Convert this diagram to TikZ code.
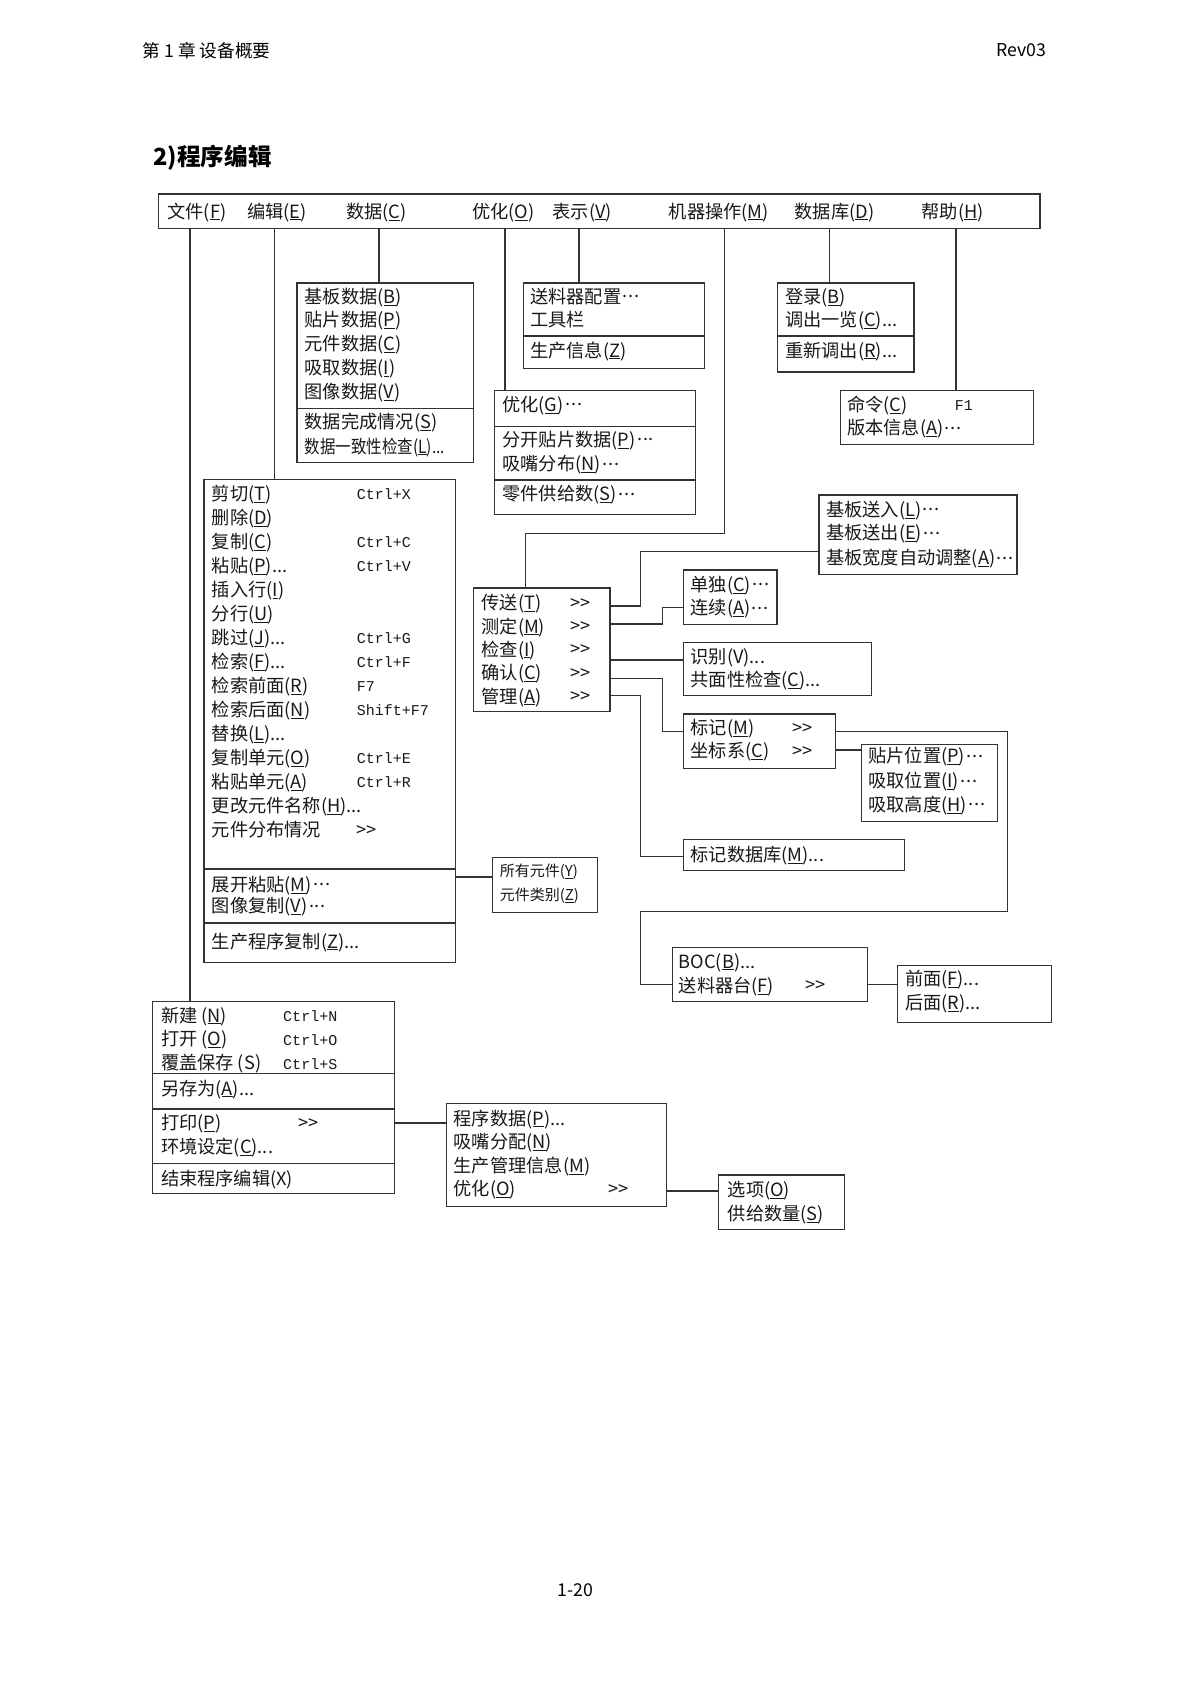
\documentclass[tikz,border=0pt]{standalone}
\usepackage{fontspec}
\setmainfont{Noto Sans CJK SC}
\setmonofont{Liberation Mono}
\newcommand\mn[1]{\underline{#1}}
\newcommand\md{\kern0.08em\raisebox{0.3em}{.\kern0.05em.\kern0.05em.}}
\newcommand\dg{>{}>}
\tikzset{
  ln/.style={line width=1.1pt, draw=black!80},
  mbox/.style={ln, rectangle, inner sep=0pt, outer sep=0pt, anchor=north west},
  rt/.style={inner sep=0pt, anchor=base west, font=\fontsize{17}{17}\selectfont, text=black!90},
  st/.style={inner sep=0pt, anchor=base west, font=\fontsize{14}{14}\selectfont, text=black!90},
  kt/.style={inner sep=0pt, anchor=base west, font=\ttfamily\fontsize{14}{14}\selectfont, text=black!90},
  gt/.style={inner sep=0pt, anchor=base west, font=\fontsize{17}{17}\selectfont, text=black!90},
  hd/.style={inner sep=0pt, font=\fontsize{16.5}{16.5}\selectfont},
  ttl/.style={inner sep=0pt, font=\bfseries\fontsize{22}{22}\selectfont},
}
\newcommand\mybox[5]{\node[mbox, minimum width={(#4)-(#2)}, minimum height={(#5)-(#3)}] (#1) at (#2,#3) {};}
\newcommand\rw[4]{\node[rt] (#1) at (#2,#3+6) {#4};}
\newcommand\sw[4]{\node[st] (#1) at (#2,#3+5) {#4};}
\newcommand\kw[4]{\node[kt] (#1) at (#2,#3+5.5) {#4};}
\newcommand\gw[3]{\node[gt] (#1) at (#2,#3+5.5) {\dg};}
\newcommand\divline[3]{\draw[ln] (#1,#3) -- (#2,#3);}
\begin{document}
\begin{tikzpicture}[x=1pt,y=-1pt]
\useasboundingbox[fill=white] (0,0) rectangle (1108,1568);
% header
\node[hd, anchor=west] (hdL) at (133,47) {第 1 章 设备概要};
\node[hd, anchor=east] (hdR) at (976,47) {Rev03};
\node[ttl, anchor=west] (ttl) at (143,147) {2)程序编辑};
\node[hd] (pg) at (537,1483) {1-20};

% menubar
\mybox{mb}{148}{181}{970}{213}
\rw{mF}{156}{197.5}{文件(\mn{F})}
\rw{mE}{230.5}{197.5}{编辑(\mn{E})}
\rw{mC}{322.7}{197.5}{数据(\mn{C})}
\rw{mO}{440.3}{197.5}{优化(\mn{O})}
\rw{mV}{515.3}{197.5}{表示(\mn{V})}
\rw{mM}{623.7}{197.5}{机器操作(\mn{M})}
\rw{mD}{741}{197.5}{数据库(\mn{D})}
\rw{mH}{859.4}{197.5}{帮助(\mn{H})}

\coordinate (xF) at (177.2,0);
\coordinate (xE) at (256,0);
\coordinate (xC) at (353.5,0);
\coordinate (xO) at (471,0);
\coordinate (xV) at (540,0);
\coordinate (xM) at (676,0);
\coordinate (xD) at (774,0);
\coordinate (xH) at (891.7,0);
\coordinate (turnM) at (490,497.4);

% data box
\mybox{dat}{277}{264}{442}{431.5}
\divline{277}{442}{381}
\rw{d1}{284}{277}{基板数据(\mn{B})}
\rw{d2}{284}{299}{贴片数据(\mn{P})}
\rw{d3}{284}{321}{元件数据(\mn{C})}
\rw{d4}{284}{343.5}{吸取数据(\mn{I})}
\rw{d5}{284}{366}{图像数据(\mn{V})}
\rw{d6}{284}{394}{数据完成情况(\mn{S})}
\rw{d7}{284}{416.6}{\scalebox{0.85}[1]{数据一致性检查(\mn{L})...}}

% view box
\mybox{shw}{488}{264}{657}{344}
\divline{488}{657}{313.4}
\rw{v1}{494.3}{277}{送料器配置\md}
\rw{v2}{494.3}{298.5}{工具栏}
\rw{v3}{494.3}{327}{生产信息(\mn{Z})}

% database box
\mybox{db}{725}{264}{852.5}{347}
\divline{725}{852.5}{313.4}
\rw{b1}{732.3}{277}{登录(\mn{B})}
\rw{b2}{732.3}{298.5}{调出一览(\mn{C})...}
\rw{b3}{732.3}{327}{重新调出(\mn{R})...}

% help box
\mybox{hlp}{784}{364}{964}{414.4}
\rw{h1}{790}{377.7}{命令(\mn{C})}
\kw{h1k}{890.4}{377.7}{F1}
\rw{h2}{790}{399.5}{版本信息(\mn{A})\md}

% optimize box
\mybox{opt}{461}{364}{648.5}{480}
\divline{461}{648.5}{398}
\divline{461}{648.5}{447.7}
\rw{o1}{468.4}{377.7}{优化(\mn{G})\md}
\rw{o2}{468.4}{410.4}{分开贴片数据(\mn{P})\md}
\rw{o3}{468.4}{433}{吸嘴分布(\mn{N})\md}
\rw{o4}{468.4}{461}{零件供给数(\mn{S})\md}

% edit box
\mybox{ed}{190.3}{447}{425}{898}
\divline{190.3}{425}{810.5}
\divline{190.3}{425}{861}
\rw{e1}{197.4}{460.7}{剪切(\mn{T})}   \kw{e1k}{332.6}{460.7}{Ctrl+X}
\rw{e2}{197.4}{483.1}{删除(\mn{D})}
\rw{e3}{197.4}{505.5}{复制(\mn{C})}   \kw{e3k}{332.6}{505.5}{Ctrl+C}
\rw{e4}{197.4}{527.9}{粘贴(\mn{P})...} \kw{e4k}{332.6}{527.9}{Ctrl+V}
\rw{e5}{197.4}{550.3}{插入行(\mn{I})}
\rw{e6}{197.4}{572.7}{分行(\mn{U})}
\rw{e7}{197.4}{595.1}{跳过(\mn{J})...} \kw{e7k}{332.6}{595.1}{Ctrl+G}
\rw{e8}{197.4}{617.5}{检索(\mn{F})...} \kw{e8k}{332.6}{617.5}{Ctrl+F}
\rw{e9}{197.4}{639.9}{检索前面(\mn{R})} \kw{e9k}{332.6}{639.9}{F7}
\rw{e10}{197.4}{662.3}{检索后面(\mn{N})} \kw{e10k}{332.6}{662.3}{Shift+F7}
\rw{e11}{197.4}{684.7}{替换(\mn{L})...}
\rw{e12}{197.4}{707.1}{复制单元(\mn{O})} \kw{e12k}{332.6}{707.1}{Ctrl+E}
\rw{e13}{197.4}{729.5}{粘贴单元(\mn{A})} \kw{e13k}{332.6}{729.5}{Ctrl+R}
\rw{e14}{197.4}{751.9}{更改元件名称(\mn{H})...}
\rw{e15}{197.4}{774.3}{元件分布情况} \gw{e15k}{332.6}{774.3}
\rw{e16}{197.4}{825.4}{展开粘贴(\mn{M})\md}
\rw{e17}{197.4}{845.6}{图像复制(\mn{V})\md}
\rw{e18}{197.4}{878.3}{生产程序复制(\mn{Z})...}

% all components box
\mybox{allc}{459.7}{800}{557}{851}
\sw{a1}{466}{813}{所有元件(\mn{Y})}
\sw{a2}{466}{835}{元件类别(\mn{Z})}

% machine operation box
\mybox{trans}{441.7}{548.5}{569}{664}
\rw{t1}{449}{562.7}{传送(\mn{T})} \gw{t1k}{532}{562.7}
\rw{t2}{449}{584.5}{测定(\mn{M})} \gw{t2k}{532}{584.5}
\rw{t3}{449}{606}{检查(\mn{I})}   \gw{t3k}{532}{606}
\rw{t4}{449}{628}{确认(\mn{C})}   \gw{t4k}{532}{628}
\rw{t5}{449}{649.8}{管理(\mn{A})} \gw{t5k}{532}{649.8}

\mybox{kiban}{764}{461.7}{948.6}{536}
\rw{k1}{770.4}{475.7}{基板送入(\mn{L})\md}
\rw{k2}{770.4}{497.4}{基板送出(\mn{E})\md}
\rw{k3}{770.4}{520.7}{基板宽度自动调整(\mn{A})\md}

\mybox{tandu}{637.2}{531.6}{724.8}{582.3}
\rw{u1}{644}{545.6}{单独(\mn{C})\md}
\rw{u2}{644}{567.4}{连续(\mn{A})\md}

\mybox{recog}{637.2}{599}{813}{649}
\rw{r1}{644}{612.5}{识别(V)...}
\rw{r2}{644}{634.2}{共面性检查(\mn{C})...}

\mybox{mark}{637.2}{666}{779.7}{717}
\rw{g1}{644}{679.3}{标记(\mn{M})}   \gw{g1k}{738.7}{679.3}
\rw{g2}{644}{701}{坐标系(\mn{C})}   \gw{g2k}{738.7}{701}

\mybox{pos}{803.8}{694.8}{930.3}{766}
\rw{p1}{809.8}{705.7}{贴片位置(\mn{P})\md}
\rw{p2}{809.8}{729}{吸取位置(\mn{I})\md}
\rw{p3}{809.8}{750.8}{吸取高度(\mn{H})\md}

\mybox{mdb}{637.2}{783.4}{843.7}{812}
\rw{q1}{644}{797.4}{标记数据库(\mn{M})...}

\mybox{boc}{627}{884}{809}{934}
\rw{c1}{633}{897}{BOC(\mn{B})...}
\rw{c2}{633}{919.6}{送料器台(\mn{F})} \gw{c2k}{751}{919.6}

\mybox{front}{837}{900.6}{981}{954}
\rw{f1}{844}{913.5}{前面(\mn{F})...}
\rw{f2}{844}{936}{后面(\mn{R})...}

% file box
\mybox{fl}{142.6}{934}{368}{1113}
\divline{142.6}{368}{1001.5}
\divline{142.6}{368}{1034.5}
\divline{142.6}{368}{1085}
\rw{n1}{150}{947.4}{新建 (\mn{N})}     \kw{n1k}{264}{947.4}{Ctrl+N}
\rw{n2}{150}{969.6}{打开 (\mn{O})}     \kw{n2k}{264}{969.6}{Ctrl+O}
\rw{n3}{150}{992}{覆盖保存 (S)}        \kw{n3k}{264}{992}{Ctrl+S}
\rw{n4}{150}{1015.5}{另存为(\mn{A})...}
\rw{n5}{150}{1048}{打印(\mn{P})}       \gw{n5k}{278}{1048}
\rw{n6}{150}{1069.5}{环境设定(\mn{C})...}
\rw{n7}{150}{1099.5}{结束程序编辑(X)}

\mybox{prg}{416.6}{1029}{621.7}{1125.6}
\rw{s1}{423}{1043.5}{程序数据(\mn{P})...}
\rw{s2}{423}{1065.5}{吸嘴分配(\mn{N})}
\rw{s3}{423}{1087.5}{生产管理信息(\mn{M})}
\rw{s4}{423}{1109.5}{优化(\mn{O})} \gw{s4k}{567.4}{1109.5}

\mybox{opt2}{670}{1096}{788}{1147}
\rw{w1}{678.7}{1110}{选项(\mn{O})}
\rw{w2}{678.7}{1132.5}{供给数量(\mn{S})}

% connectors from menubar
\draw[ln] (mb.south -| xF) -- (fl.north -| xF);
\draw[ln] (mb.south -| xE) -- (ed.north -| xE);
\draw[ln] (mb.south -| xC) -- (dat.north -| xC);
\draw[ln] (mb.south -| xO) -- (opt.north -| xO);
\draw[ln] (mb.south -| xV) -- (shw.north -| xV);
\draw[ln] (mb.south -| xD) -- (db.north -| xD);
\draw[ln] (mb.south -| xH) -- (hlp.north -| xH);
\draw[ln] (mb.south -| xM) |- (turnM) -- (trans.north -| turnM);

% side connectors
\draw[ln] (ed.east |- 0,818) -- (allc.west |- 0,818);
\draw[ln] (trans.east |- 0,565.2) -| (597.3,514.5) -- (kiban.west |- 0,514.5);
\draw[ln] (trans.east |- 0,582) -| (618,566.5) -- (tandu.west |- 0,566.5);
\draw[ln] (trans.east |- 0,615.6) -- (recog.west |- 0,615.6);
\draw[ln] (trans.east |- 0,632.6) -| (618,682.5) -- (mark.west |- 0,682.5);
\draw[ln] (trans.east |- 0,649) -| (597.3,799) -- (mdb.west |- 0,799);
\draw[ln] (mark.east |- 0,699.5) -- (pos.west |- 0,699.5);
\draw[ln] (mark.east |- 0,682.5) -| (939.7,850) -| (597.3,918.5) -- (boc.west |- 0,918.5);
\draw[ln] (boc.east |- 0,918) -- (front.west |- 0,918);
\draw[ln] (fl.east |- 0,1047.5) -- (prg.west |- 0,1047.5);
\draw[ln] (prg.east |- 0,1111) -- (opt2.west |- 0,1111);
\end{tikzpicture}
\end{document}
